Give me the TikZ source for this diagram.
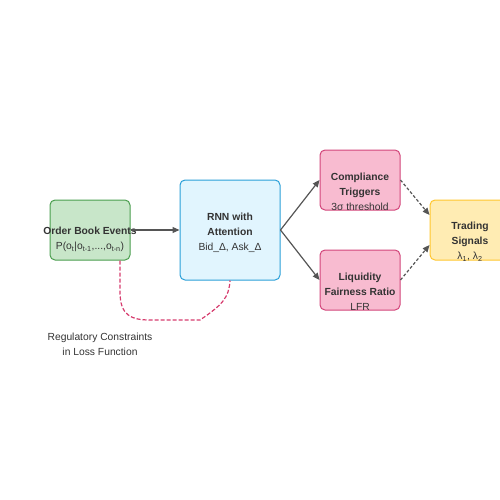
\documentclass[tikz,border=0pt]{standalone}
\usepackage{fontspec}
\setmainfont{Liberation Sans}
\usetikzlibrary{arrows.meta}

\definecolor{obFill}{HTML}{C8E6C9}
\definecolor{obDraw}{HTML}{4A9E4E}
\definecolor{rnnFill}{HTML}{E1F5FE}
\definecolor{rnnDraw}{HTML}{2A9FD8}
\definecolor{pkFill}{HTML}{F8BBD0}
\definecolor{pkDraw}{HTML}{D2457A}
\definecolor{tsFill}{HTML}{FFECB3}
\definecolor{tsDraw}{HTML}{FFC62E}
\definecolor{regRed}{HTML}{D63C6E}
\definecolor{txtGray}{HTML}{333333}
\definecolor{arrGray}{HTML}{555555}

\tikzset{
  box/.style={draw, rounded corners=5pt, line width=1pt},
  txt/.style={text=txtGray, align=center, inner sep=0pt, font=\fontsize{10.3}{15}\selectfont},
  flow/.style={draw=arrGray, line width=1.2pt, -{Triangle[length=7pt,width=6pt]}},
}

\begin{document}
\begin{tikzpicture}[x=1pt,y=-1pt]
  \useasboundingbox (0,0) rectangle (500,500);

	%draw boxes
    \foreach \x/\y/\w/\h/\fc/\dc/\name in {90/230/80/60/obFill/obDraw/ob, 230/230/100/100/rnnFill/rnnDraw/rnn,
                                           360/180/80/60/pkFill/pkDraw/ct, 360/280/80/60/pkFill/pkDraw/lfr,
                                           470/230/80/60/tsFill/tsDraw/ts}{
           \node[box, fill=\fc, draw=\dc, minimum width=\w, minimum height=\h] (\name) at (\x,\y) {};
    }

	%texts
 \node[txt] (obT) at ([yshift=-9.5]ob.center) {\textbf{Order Book Events}\\P(o\textsubscript{t}|o\textsubscript{t-1},...,o\textsubscript{t-n})};
 \node[txt] (rnnT) at ([yshift=-2.5]rnn.center) {\textbf{RNN with}\\\textbf{Attention}\\Bid\_Δ, Ask\_Δ};
 \node[txt] (ctT) at ([yshift=-12]ct.center) {\textbf{Compliance}\\\textbf{Triggers}\\3σ threshold};
 \node[txt] (lfrT) at ([yshift=-12]lfr.center) {\textbf{Liquidity}\\\textbf{Fairness Ratio}\\LFR};
 \node[txt] (tsT) at ([yshift=-12]ts.center) {\textbf{Trading}\\\textbf{Signals}\\λ\textsubscript{1}, λ\textsubscript{2}};
 \node[txt] (reg) at (100,344.5) {Regulatory Constraints\\in Loss Function};

	%arrows
    \draw[flow] (ob.east) -- (rnn.west);
    \draw[flow] (rnn.east) -- (ct.west);
    \draw[flow] (rnn.east) -- (lfr.west);
    \draw[flow, dash pattern=on 3pt off 2pt] (ct.east) -- ([yshift=15]ts.west);
    \draw[flow, dash pattern=on 3pt off 2pt] (lfr.east) -- ([yshift=-15]ts.west);

	%constraint loop
    \draw[regRed, line width=1.2pt, dash pattern=on 4pt off 2pt]
       ([xshift=30]ob.south) -- (120,292) .. controls (120,316) and (132,320) .. (150,320)
       -- (200,320) .. controls (222,305) and (229,298) .. (rnn.south);

\end{tikzpicture}
\end{document}
